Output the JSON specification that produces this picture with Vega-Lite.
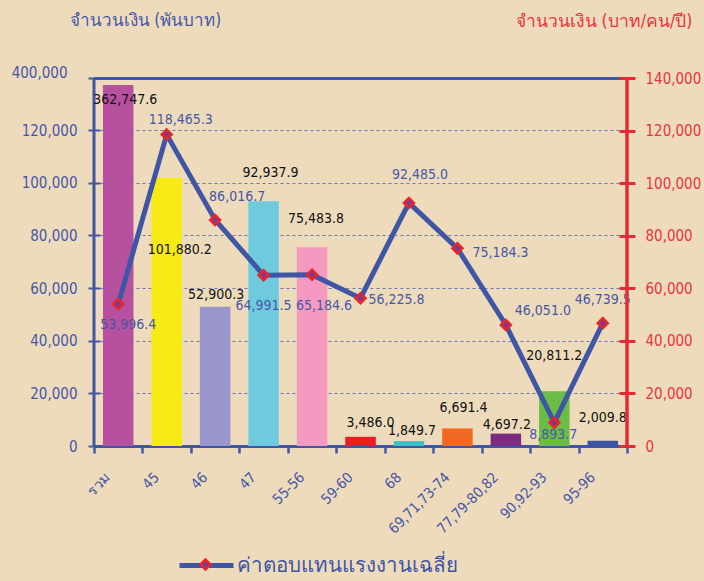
{
  "$schema": "https://vega.github.io/schema/vega-lite/v6.json",
  "width": 533,
  "height": 368,
  "autosize": {"type": "none"},
  "padding": {"left": 94, "top": 78, "right": 77, "bottom": 135},
  "background": "#EEDBBC",
  "config": {"view": {"stroke": null}, "font": "DejaVu Sans Condensed"},
  "data": {"values": [
    {"cat": "รวม", "amount": 362747.6, "avg": 53996.4},
    {"cat": "45", "amount": 101880.2, "avg": 118465.3},
    {"cat": "46", "amount": 52900.3, "avg": 86016.7},
    {"cat": "47", "amount": 92937.9, "avg": 64991.5},
    {"cat": "55-56", "amount": 75483.8, "avg": 65184.6},
    {"cat": "59-60", "amount": 3486.0, "avg": 56225.8},
    {"cat": "68", "amount": 1849.7, "avg": 92485.0},
    {"cat": "69,71,73-74", "amount": 6691.4, "avg": 75184.3},
    {"cat": "77,79-80,82", "amount": 4697.2, "avg": 46051.0},
    {"cat": "90,92-93", "amount": 20811.2, "avg": 8893.7},
    {"cat": "95-96", "amount": 2009.8, "avg": 46739.5}
  ]},
  "encoding": {
    "x": {
      "field": "cat", "type": "nominal", "sort": null,
      "scale": {"paddingInner": 0, "paddingOuter": 0},
      "axis": {
        "title": null, "labelAngle": -45, "labelAlign": "right", "labelBaseline": "middle",
        "labelColor": "#4657A7", "labelFontSize": 14.5, "labelPadding": 22, "labelOffset": -10, "labelFont": "DejaVu Sans Condensed",
        "domainColor": "#3F55A5", "domainWidth": 3, "tickColor": "#3F55A5", "tickWidth": 2.5, "tickSize": 7,
        "tickBand": "extent", "labelOverlap": false
      }
    }
  },
  "layer": [
    {
      "layer": [
        {
          "mark": {"type": "bar", "width": {"band": 0.63}},
          "encoding": {
            "y": {
              "field": "amount", "type": "quantitative",
              "scale": {"domain": [0, 120000, 400000], "range": [368, 52, 0], "nice": false, "zero": false},
              "axis": {
                "title": "จำนวนเงิน (พันบาท)", "titleAngle": 0, "titleAlign": "left", "titleBaseline": "middle",
                "titleX": -31, "titleY": -58, "titleColor": "#4657A7", "titleFontSize": 17, "titleFontWeight": "normal",
                "values": [0, 20000, 40000, 60000, 80000, 100000, 120000, 400000], "format": ",d",
                "labelColor": "#4657A7", "labelFontSize": 15, "labelFont": "DejaVu Sans Condensed",
                "labelPadding": {"condition": {"test": "datum.value === 400000", "value": 21}, "value": 11},
                "labelOffset": {"condition": {"test": "datum.value === 400000", "value": -6}, "value": 0},
                "labelOverlap": false, "labelFlush": false,
                "domain": false, "offset": -6, "tickSize": 12, "tickColor": "#3F55A5", "tickWidth": 2,
                "grid": true,
                "gridColor": {"condition": {"test": "datum.value === 400000", "value": "#3F55A5"}, "value": "#6A78B5"},
                "gridDash": {"condition": {"test": "datum.value === 400000", "value": []}, "value": [3, 3]},
                "gridWidth": {"condition": {"test": "datum.value === 400000", "value": 3}, "value": 1},
                "gridOpacity": {"condition": {"test": "datum.value === 0", "value": 0}, "value": 1}
              }
            },
            "color": {
              "field": "cat", "type": "nominal", "sort": null, "legend": null,
              "scale": {
                "domain": ["รวม", "45", "46", "47", "55-56", "59-60", "68", "69,71,73-74", "77,79-80,82", "90,92-93", "95-96"],
                "range": ["#B5519E", "#F6EB14", "#9896CA", "#6DCBDD", "#F49AC1", "#EC1C24", "#3BC0C4", "#F26923", "#7B2B82", "#6CBD45", "#3B55A3"]
              }
            }
          }
        },
        {
          "transform": [{"filter": "datum.cat === 'รวม'"}],
          "mark": {"type": "rule", "color": "#3F55A5", "strokeWidth": 3},
          "encoding": {"x": {"field": "cat", "type": "nominal", "sort": null, "bandPosition": 0}}
        },
        {"transform": [{"filter": "datum.cat === 'รวม'"}], "mark": {"type": "text", "dx": 7, "dy": 15, "fontSize": 14, "color": "#111111"}, "encoding": {"y": {"field": "amount", "type": "quantitative"}, "text": {"field": "amount", "type": "quantitative", "format": ",.1f"}}},
        {"transform": [{"filter": "datum.cat === '45'"}], "mark": {"type": "text", "dx": 13, "dy": 72, "fontSize": 14, "color": "#111111"}, "encoding": {"y": {"field": "amount", "type": "quantitative"}, "text": {"field": "amount", "type": "quantitative", "format": ",.1f"}}},
        {"transform": [{"filter": "datum.cat === '46'"}], "mark": {"type": "text", "dx": 1, "dy": -12, "fontSize": 14, "color": "#111111"}, "encoding": {"y": {"field": "amount", "type": "quantitative"}, "text": {"field": "amount", "type": "quantitative", "format": ",.1f"}}},
        {"transform": [{"filter": "datum.cat === '47'"}], "mark": {"type": "text", "dx": 7, "dy": -28, "fontSize": 14, "color": "#111111"}, "encoding": {"y": {"field": "amount", "type": "quantitative"}, "text": {"field": "amount", "type": "quantitative", "format": ",.1f"}}},
        {"transform": [{"filter": "datum.cat === '55-56'"}], "mark": {"type": "text", "dx": 4, "dy": -28, "fontSize": 14, "color": "#111111"}, "encoding": {"y": {"field": "amount", "type": "quantitative"}, "text": {"field": "amount", "type": "quantitative", "format": ",.1f"}}},
        {"transform": [{"filter": "datum.cat === '59-60'"}], "mark": {"type": "text", "dx": 10, "dy": -14, "fontSize": 14, "color": "#111111"}, "encoding": {"y": {"field": "amount", "type": "quantitative"}, "text": {"field": "amount", "type": "quantitative", "format": ",.1f"}}},
        {"transform": [{"filter": "datum.cat === '68'"}], "mark": {"type": "text", "dx": 3, "dy": -10, "fontSize": 14, "color": "#111111"}, "encoding": {"y": {"field": "amount", "type": "quantitative"}, "text": {"field": "amount", "type": "quantitative", "format": ",.1f"}}},
        {"transform": [{"filter": "datum.cat === '69,71,73-74'"}], "mark": {"type": "text", "dx": 6, "dy": -20, "fontSize": 14, "color": "#111111"}, "encoding": {"y": {"field": "amount", "type": "quantitative"}, "text": {"field": "amount", "type": "quantitative", "format": ",.1f"}}},
        {"transform": [{"filter": "datum.cat === '77,79-80,82'"}], "mark": {"type": "text", "dx": 1, "dy": -9, "fontSize": 14, "color": "#111111"}, "encoding": {"y": {"field": "amount", "type": "quantitative"}, "text": {"field": "amount", "type": "quantitative", "format": ",.1f"}}},
        {"transform": [{"filter": "datum.cat === '90,92-93'"}], "mark": {"type": "text", "dx": 0, "dy": -35, "fontSize": 14, "color": "#111111"}, "encoding": {"y": {"field": "amount", "type": "quantitative"}, "text": {"field": "amount", "type": "quantitative", "format": ",.1f"}}},
        {"transform": [{"filter": "datum.cat === '95-96'"}], "mark": {"type": "text", "dx": 0, "dy": -23, "fontSize": 14, "color": "#111111"}, "encoding": {"y": {"field": "amount", "type": "quantitative"}, "text": {"field": "amount", "type": "quantitative", "format": ",.1f"}}}
      ]
    },
    {
      "layer": [
        {
          "mark": {"type": "line", "strokeWidth": 5},
          "encoding": {
            "y": {
              "field": "avg", "type": "quantitative",
              "scale": {"domain": [0, 140000], "nice": false, "zero": true},
              "axis": {
                "orient": "right",
                "title": "จำนวนเงิน (บาท/คน/ปี)", "titleAngle": 0, "titleAlign": "right", "titleBaseline": "middle",
                "titleX": 73, "titleY": -57, "titleColor": "#E8343C", "titleFontSize": 17.5, "titleFontWeight": "normal",
                "values": [0, 20000, 40000, 60000, 80000, 100000, 120000, 140000], "format": ",d",
                "labelColor": "#E8343C", "labelFontSize": 15, "labelFont": "DejaVu Sans Condensed", "labelPadding": 10,
                "labelOverlap": false, "labelFlush": false,
                "domain": false, "offset": -8, "tickSize": 16, "tickColor": "#E32C35", "tickWidth": 3, "grid": false
              }
            },
            "stroke": {
              "datum": "ค่าตอบแทนแรงงานเฉลี่ย", "type": "nominal",
              "scale": {"range": ["#3F55A5"]},
              "legend": {
                "orient": "none", "legendX": 83, "legendY": 458, "title": null, "padding": 0,
                "symbolType": "stroke", "symbolSize": 2916, "symbolStrokeWidth": 5, "symbolStrokeColor": "#3F55A5",
                "labelFontSize": 20.5, "labelColor": "#3F55A5", "labelOffset": 1, "labelLimit": 400
              }
            }
          }
        },
        {
          "mark": {"type": "point", "shape": "diamond", "filled": true, "size": 100, "stroke": "#E8262A", "strokeWidth": 2.5, "opacity": 1},
          "encoding": {
            "y": {"field": "avg", "type": "quantitative"},
            "fill": {
              "datum": " ", "type": "nominal",
              "scale": {"range": ["#7B3A8F"]},
              "legend": {
                "orient": "none", "legendX": 105, "legendY": 480, "title": null, "padding": 0, "zindex": 2,
                "symbolType": "diamond", "symbolSize": 100, "symbolStrokeColor": "#E8262A", "symbolStrokeWidth": 2.5,
                "labelOpacity": 0
              }
            }
          }
        },
        {"transform": [{"filter": "datum.cat === 'รวม'"}], "mark": {"type": "text", "dx": 10, "dy": 21, "fontSize": 14, "color": "#4657A7"}, "encoding": {"y": {"field": "avg", "type": "quantitative"}, "text": {"field": "avg", "type": "quantitative", "format": ",.1f"}}},
        {"transform": [{"filter": "datum.cat === '45'"}], "mark": {"type": "text", "dx": 14, "dy": -15, "fontSize": 14, "color": "#4657A7"}, "encoding": {"y": {"field": "avg", "type": "quantitative"}, "text": {"field": "avg", "type": "quantitative", "format": ",.1f"}}},
        {"transform": [{"filter": "datum.cat === '46'"}], "mark": {"type": "text", "dx": 22, "dy": -23, "fontSize": 14, "color": "#4657A7"}, "encoding": {"y": {"field": "avg", "type": "quantitative"}, "text": {"field": "avg", "type": "quantitative", "format": ",.1f"}}},
        {"transform": [{"filter": "datum.cat === '47'"}], "mark": {"type": "text", "dx": 0, "dy": 31, "fontSize": 14, "color": "#4657A7"}, "encoding": {"y": {"field": "avg", "type": "quantitative"}, "text": {"field": "avg", "type": "quantitative", "format": ",.1f"}}},
        {"transform": [{"filter": "datum.cat === '55-56'"}], "mark": {"type": "text", "dx": 12, "dy": 31, "fontSize": 14, "color": "#4657A7"}, "encoding": {"y": {"field": "avg", "type": "quantitative"}, "text": {"field": "avg", "type": "quantitative", "format": ",.1f"}}},
        {"transform": [{"filter": "datum.cat === '59-60'"}], "mark": {"type": "text", "dx": 36, "dy": 2, "fontSize": 14, "color": "#4657A7"}, "encoding": {"y": {"field": "avg", "type": "quantitative"}, "text": {"field": "avg", "type": "quantitative", "format": ",.1f"}}},
        {"transform": [{"filter": "datum.cat === '68'"}], "mark": {"type": "text", "dx": 11, "dy": -28, "fontSize": 14, "color": "#4657A7"}, "encoding": {"y": {"field": "avg", "type": "quantitative"}, "text": {"field": "avg", "type": "quantitative", "format": ",.1f"}}},
        {"transform": [{"filter": "datum.cat === '69,71,73-74'"}], "mark": {"type": "text", "dx": 43, "dy": 5, "fontSize": 14, "color": "#4657A7"}, "encoding": {"y": {"field": "avg", "type": "quantitative"}, "text": {"field": "avg", "type": "quantitative", "format": ",.1f"}}},
        {"transform": [{"filter": "datum.cat === '77,79-80,82'"}], "mark": {"type": "text", "dx": 37, "dy": -14, "fontSize": 14, "color": "#4657A7"}, "encoding": {"y": {"field": "avg", "type": "quantitative"}, "text": {"field": "avg", "type": "quantitative", "format": ",.1f"}}},
        {"transform": [{"filter": "datum.cat === '90,92-93'"}], "mark": {"type": "text", "dx": -1, "dy": 12, "fontSize": 14, "color": "#4657A7"}, "encoding": {"y": {"field": "avg", "type": "quantitative"}, "text": {"field": "avg", "type": "quantitative", "format": ",.1f"}}},
        {"transform": [{"filter": "datum.cat === '95-96'"}], "mark": {"type": "text", "dx": 0, "dy": -23, "fontSize": 14, "color": "#4657A7"}, "encoding": {"y": {"field": "avg", "type": "quantitative"}, "text": {"field": "avg", "type": "quantitative", "format": ",.1f"}}},
        {
          "transform": [{"filter": "datum.cat === '95-96'"}],
          "mark": {"type": "rule", "color": "#E32C35", "strokeWidth": 3.5},
          "encoding": {"x": {"field": "cat", "type": "nominal", "sort": null, "bandPosition": 1}}
        }
      ]
    }
  ],
  "resolve": {"scale": {"y": "independent"}}
}
